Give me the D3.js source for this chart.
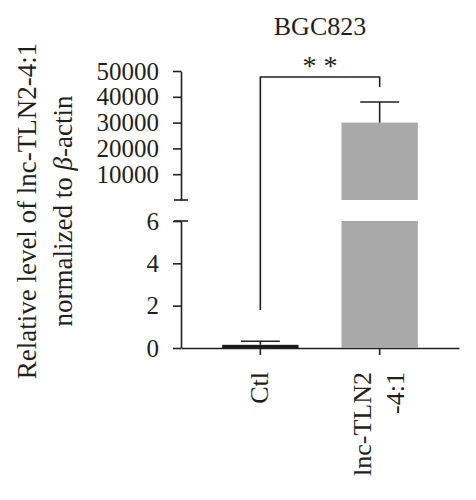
<!DOCTYPE html>
<html>
<head>
<meta charset="utf-8">
<script src="https://cdnjs.cloudflare.com/ajax/libs/d3/7.8.5/d3.min.js"></script>
<style>
  body { margin: 0; background: #fff; }
  text { font-family: "Liberation Serif", "DejaVu Serif", serif; fill: #231f20; }
</style>
</head>
<body>
<div id="chart"></div>
<script>
// data
const categories = ["Ctl", "lnc-TLN2-4:1"];
const catLabels = [["Ctl"], ["lnc-TLN2", "-4:1"]];
const means = [0.15, 30000];
const errors = [0.17, 8000];
const barColors = ["#1a1a1a", "#a9a9a9"];
const lowerTicks = [0, 2, 4, 6];
const upperTicks = [10000, 20000, 30000, 40000, 50000];
// significance bracket: left foot (lower scale), top and right foot (upper scale)
const bracket = { leftEnd: 1.8, top: 47700, rightEnd: 43800, label: "* *" };

const W = 476, H = 500;
const ink = "#231f20";

const svg = d3.select("#chart").append("svg")
  .attr("width", W)
  .attr("height", H);

// scales (broken y axis: two segments)
const x = d3.scaleBand().domain(categories).range([181, 459])
  .paddingInner(0.36).paddingOuter(0.345);
const yLow = d3.scaleLinear().domain([0, 6]).range([348, 221]);
const yHigh = d3.scaleLinear().domain([0, 50000]).range([200, 71]);
const lowMax = yLow.domain()[1];

function styleAxis(g){
  g.selectAll("path, line").attr("stroke", ink).attr("stroke-width", 1.6);
  g.selectAll("text").attr("font-size", 25).attr("fill", ink)
    .style("font-family", '"Liberation Serif", serif');
}

svg.append("g").attr("transform", "translate(181,0)")
  .call(d3.axisLeft(yLow).tickValues(lowerTicks).tickFormat(d3.format("d"))
    .tickSize(8).tickSizeOuter(0).tickPadding(14))
  .call(styleAxis);

svg.append("g").attr("transform", "translate(181,0)")
  .call(d3.axisLeft(yHigh).tickValues(upperTicks).tickFormat(d3.format("d"))
    .tickSize(8).tickSizeOuter(0).tickPadding(14))
  .call(styleAxis);

// break marks at the ends of both segments
[yHigh(0), yLow(lowMax)].forEach((yy) => {
  svg.append("line")
    .attr("x1", 174).attr("x2", 188)
    .attr("y1", yy).attr("y2", yy)
    .attr("stroke", ink).attr("stroke-width", 1.6);
});

// x axis
svg.append("g").attr("transform", "translate(0," + yLow(0) + ")")
  .call(d3.axisBottom(x).tickSize(7).tickSizeOuter(0).tickFormat(""))
  .call(styleAxis);

// bars
categories.forEach((c, i) => {
  let v = means[i];
  let x0 = x(c), bw = x.bandwidth();
  if (v <= lowMax){
    svg.append("rect")
      .attr("x", x0).attr("width", bw)
      .attr("y", yLow(v)).attr("height", yLow(0) - yLow(v))
      .attr("fill", barColors[i]);
  } else {
    svg.append("rect")
      .attr("x", x0).attr("width", bw)
      .attr("y", yLow(lowMax)).attr("height", yLow(0) - yLow(lowMax))
      .attr("fill", barColors[i]);
    svg.append("rect")
      .attr("x", x0).attr("width", bw)
      .attr("y", yHigh(v)).attr("height", yHigh(0) - yHigh(v))
      .attr("fill", barColors[i]);
  }
});

// error bars (upper half only)
categories.forEach((c, i) => {
  let v = means[i], hi = means[i] + errors[i];
  let ys = v <= lowMax ? yLow : yHigh;
  let cx = x(c) + x.bandwidth() / 2;
  let capW = 19.5;
  svg.append("line")
    .attr("x1", cx).attr("x2", cx)
    .attr("y1", ys(v)).attr("y2", ys(hi))
    .attr("stroke", ink).attr("stroke-width", 1.6);
  svg.append("line")
    .attr("x1", cx - capW).attr("x2", cx + capW)
    .attr("y1", ys(hi)).attr("y2", ys(hi))
    .attr("stroke", ink).attr("stroke-width", 1.6);
});

// significance bracket
const bx1 = x(categories[0]) + x.bandwidth() / 2;
const bx2 = x(categories[1]) + x.bandwidth() / 2;
svg.append("path")
  .attr("d", d3.line()([
    [bx1, yLow(bracket.leftEnd)],
    [bx1, yHigh(bracket.top)],
    [bx2, yHigh(bracket.top)],
    [bx2, yHigh(bracket.rightEnd)]
  ]))
  .attr("fill", "none").attr("stroke", ink).attr("stroke-width", 1.6);

svg.append("text")
  .attr("x", (bx1 + bx2) / 2).attr("y", 75)
  .attr("text-anchor", "middle").attr("font-size", 28)
  .text(bracket.label);

// title
svg.append("text")
  .attr("x", (bx1 + bx2) / 2).attr("y", 35)
  .attr("text-anchor", "middle").attr("font-size", 26)
  .text("BGC823");

// category labels, rotated
categories.forEach((c, i) => {
  let cx = x(c) + x.bandwidth() / 2;
  let lines = catLabels[i];
  let gap = 33;
  lines.forEach((ln, j) => {
    let bx = cx + 8 + (j - (lines.length - 1) / 2) * gap;
    svg.append("text")
      .attr("transform", "translate(" + bx + ",372) rotate(-90)")
      .attr("text-anchor", "end").attr("font-size", 26)
      .text(ln);
  });
});

// y axis title
svg.append("text")
  .attr("transform", "translate(36,211) rotate(-90)")
  .attr("text-anchor", "middle").attr("font-size", 27)
  .text("Relative level of lnc-TLN2-4:1");

const yt2 = svg.append("text")
  .attr("transform", "translate(72,211) rotate(-90)")
  .attr("text-anchor", "middle").attr("font-size", 27);
yt2.append("tspan").text("normalized to ");
yt2.append("tspan").attr("font-style", "italic").text("β");
yt2.append("tspan").text("-actin");
</script>
</body>
</html>
